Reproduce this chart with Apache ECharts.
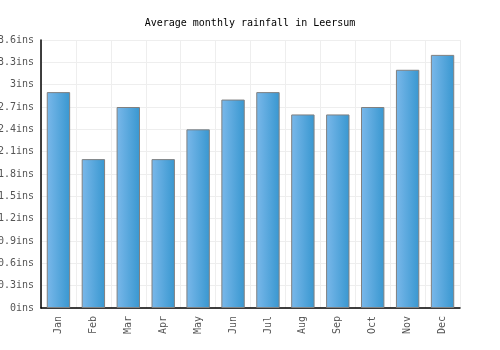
<!DOCTYPE html>
<html>
<head>
<meta charset="utf-8">
<script src="https://cdn.jsdelivr.net/npm/echarts@6/dist/echarts.min.js"></script>
<style>
  html, body { margin: 0; padding: 0; background: #fff; }
  #chart { width: 500px; height: 350px; }
</style>
</head>
<body>
<div id="chart"></div>
<script>
// data
var months = ['Jan', 'Feb', 'Mar', 'Apr', 'May', 'Jun', 'Jul', 'Aug', 'Sep', 'Oct', 'Nov', 'Dec']
var rainfall = [2.9, 2.0, 2.7, 2.0, 2.4, 2.8, 2.9, 2.6, 2.6, 2.7, 3.2, 3.4]
var yMax = 3.6
var yStep = 0.3

var font = 'DejaVu Sans Mono'
var chart = echarts.init(document.getElementById('chart'))

chart.setOption({
  animation: false,
  title: {
    text: 'Average monthly rainfall in Leersum',
    left: 'center',
    top: 13,
    textStyle: { fontFamily: font, fontSize: 10, fontWeight: 'normal', color: '#000' }
  },
  grid: { left: 41, right: 40, top: 40, bottom: 42, outerBoundsMode: 'none' },
  xAxis: {
    type: 'category',
    data: months,
    axisLine: { lineStyle: { color: '#000', width: 1.5 } },
    axisTick: { show: false },
    splitLine: { show: true, interval: 0, lineStyle: { color: '#eeeeee' } },
    axisLabel: {
      rotate: 90, interval: 0, margin: 8,
      fontFamily: font, fontSize: 10, color: '#555'
    }
  },
  yAxis: {
    type: 'value',
    min: 0,
    max: yMax,
    interval: yStep,
    axisLine: { show: true, lineStyle: { color: '#000', width: 1.5 } },
    axisTick: { show: false },
    splitLine: { lineStyle: { color: '#eeeeee' } },
    axisLabel: {
      margin: 7,
      fontFamily: font, fontSize: 10, color: '#555',
      formatter: function (v) { return +v.toFixed(1) + 'ins' }
    }
  },
  series: [{
    type: 'bar',
    data: rainfall,
    barWidth: '67%',
    itemStyle: {
      borderColor: '#808080',
      borderWidth: 1,
      color: new echarts.graphic.LinearGradient(0, 0, 1, 0, [
        { offset: 0, color: '#7ab8ea' },
        { offset: 1, color: '#3897d0' }
      ])
    }
  }]
})
</script>
</body>
</html>
